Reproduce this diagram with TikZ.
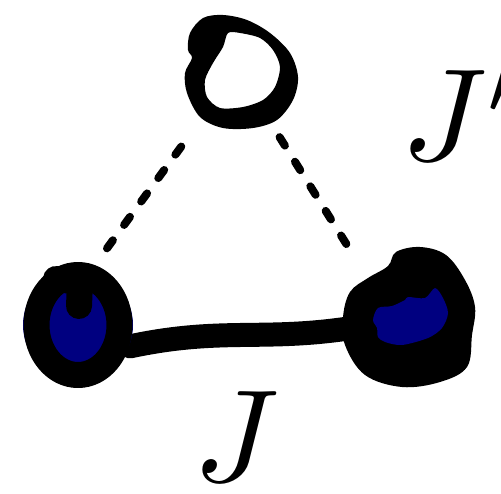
\documentclass[tikz,border=0pt]{standalone}
\usepackage{graphicx}
\usepackage{tikz}
\definecolor{navyfill}{HTML}{000080}
\definecolor{ink}{HTML}{000000}

\begin{document}
\begin{tikzpicture}[x=1bp,y=-1bp,
  site/.style={circle,inner sep=0pt},
  pen/.style={draw=ink,line cap=round,line join=round},
  bond/.style={pen,line width=24bp},
  dashbond/.style={pen,line width=8bp,dash pattern=on 10bp off 19bp},
  lab/.style={inner sep=0pt,anchor=base}]
\useasboundingbox (0,0) rectangle (501,494);
\node[site,minimum size=150bp] (O) at (242,72) {};
\node[site,minimum size=148bp] (L) at (78,323) {};
\node[site,minimum size=160bp] (R) at (410,317) {};
% dashed couplings
\draw[dashbond,shorten <=21bp] (O.230) -- (L.70);
\draw[dashbond] (O.300) -- (R.133);
% solid bond
\draw[bond,shorten <=-20bp,shorten >=-14bp] (L.-15) to[out=12,in=188] (R.190);
% top site, hollow
\fill[ink,even odd rule] plot[smooth cycle,tension=0.55] coordinates {(190,33) (203,18) (223,15) (247,20) (270,33) (290,53) (298,77) (293,100) (277,120) (253,128) (223,128) (200,117) (187,93) (185,73) (192,58) (188,50)}
  plot[smooth cycle,tension=0.5] coordinates {(228,33) (240,33) (260,38) (273,50) (280,67) (275,87) (263,100) (243,107) (220,108) (207,97) (205,80) (213,63) (223,47)};
% left site
\fill[navyfill] (78,325) circle (55bp);
\draw[pen,line width=26bp] (78,325) ellipse [x radius=41.5bp,y radius=50bp];
\draw[pen,line width=26bp] (56,279) -- (80,282) -- (79,306);
% right site
\fill[ink] plot[smooth cycle,tension=0.6] coordinates {(343,317) (350,292) (368,278) (388,266) (396,252) (420,247) (446,255) (465,280) (475,307) (472,335) (467,367) (440,382) (402,387) (365,375) (345,345)};
\fill[navyfill] plot[smooth cycle,tension=0.5] coordinates {(373,320) (378,308) (392,306) (405,300) (408,297) (425,298) (435,288) (443,298) (448,313) (442,328) (428,338) (402,345) (385,342) (378,337) (377,328)};
% labels
\node[lab] (Jlab) at (236,481) {\scalebox{13.2}{$J$}};
\node[lab,anchor=base west] (Jplab) at (401,161) {\scalebox{13.2}{$J'$}};
\end{tikzpicture}
\end{document}
